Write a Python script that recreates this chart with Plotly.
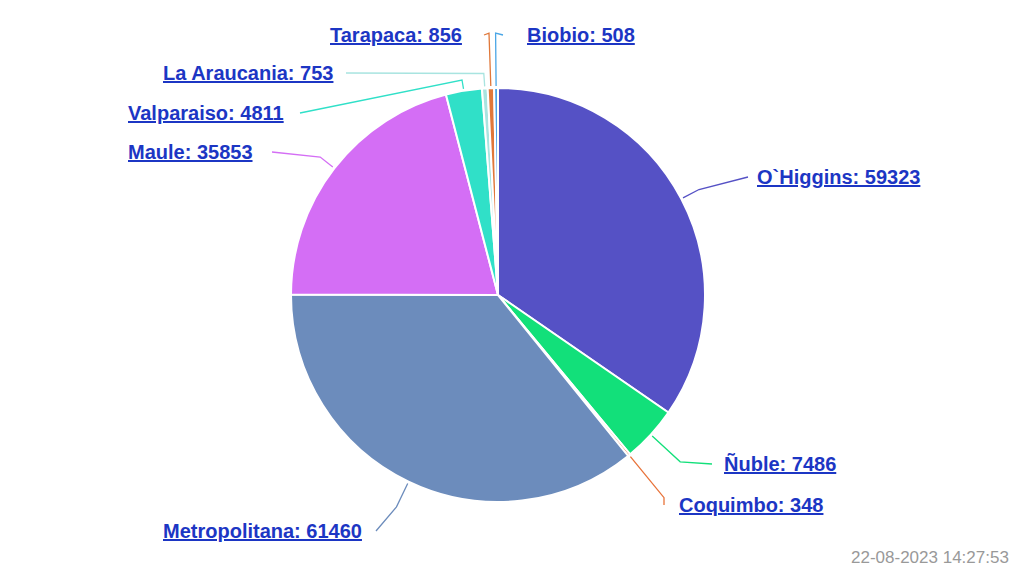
import numpy as np
import plotly.graph_objects as go

regions = ["O`Higgins", "Ñuble", "Coquimbo", "Metropolitana", "Maule",
           "Valparaiso", "La Araucania", "Tarapaca", "Biobio"]
values = [59323, 7486, 348, 61460, 35853, 4811, 753, 856, 508]
colors = ["#5551c5", "#12e07a", "#e8733a", "#6c8cbc", "#d46ef5",
          "#30e0c8", "#a8e4e0", "#e0783a", "#4aa6e6"]
stamp = "22-08-2023 14:27:53"

# page body has an 8px margin, so the figure is a bit smaller and shifted
OFF = 8
W, H = 1024 - 2 * OFF, 576 - 2 * OFF
cx, cy, r = 498, 295, 207

# label placement (screen pixels): anchor x, y, side, elbow radius, line end x
label_pos = {
    "O`Higgins":     (755, 177, "left", 20, 748),
    "Ñuble":         (722, 464, "left", 40, 712),
    "Coquimbo":      (677, 505, "left", 55, 664),
    "Metropolitana": (364, 531, "right", 28, 376),
    "Maule":         (255, 152, "right", 18, 272),
    "Valparaiso":    (286, 113, "right", 11, 300),
    "La Araucania":  (335, 73, "right", 15, 346),
    "Tarapaca":      (464, 35, "right", 262 - r, 484),
    "Biobio":        (525, 35, "left", 262 - r, 503),
}

fig = go.Figure()
fig.add_trace(go.Pie(
    labels=regions, values=values, sort=False, direction="clockwise", rotation=0,
    marker=dict(colors=colors, line=dict(color="white", width=2)),
    textinfo="none", hoverinfo="label+value", showlegend=False,
    domain=dict(x=[(cx - r - OFF) / W, (cx + r - OFF) / W],
                y=[1 - (cy + r - OFF) / H, 1 - (cy - r - OFF) / H]),
))

total = sum(values)
start = 0.0
shapes, annots = [], []
for name, v, c in zip(regions, values, colors):
    span = v / total * 360
    mid = np.radians(start + span / 2)
    start += span
    lx, ly, side, ext, ex = label_pos[name]
    dx, dy = np.sin(mid), -np.cos(mid)
    x0, y0 = cx + (r + 2) * dx, cy + (r + 2) * dy
    x1, y1 = cx + (r + ext) * dx, cy + (r + ext) * dy
    shapes.append(dict(type="path", xref="x", yref="y",
                       path=f"M{x0:.1f},{y0:.1f} L{x1:.1f},{y1:.1f} L{ex},{ly}",
                       line=dict(color=c, width=1.3)))
    annots.append(dict(x=lx, y=ly, xref="x", yref="y", showarrow=False,
                       xanchor=side, yanchor="middle",
                       text=f"<b><u>{name}: {v}</u></b>",
                       font=dict(family="Liberation Sans, Arial", size=20, color="#1c36c4")))

annots.append(dict(x=1011, y=557, xref="x", yref="y", showarrow=False, xanchor="right",
                   yanchor="middle", text=stamp,
                   font=dict(family="Liberation Sans, Arial", size=17, color="#999999")))

fig.update_layout(
    width=W, height=H, margin=dict(l=0, r=0, t=0, b=0),
    paper_bgcolor="white", plot_bgcolor="rgba(0,0,0,0)",
    xaxis=dict(range=[OFF, OFF + W], visible=False, fixedrange=True),
    yaxis=dict(range=[OFF + H, OFF], visible=False, fixedrange=True),
    shapes=shapes, annotations=annots,
)

fig.write_html("out.html")
